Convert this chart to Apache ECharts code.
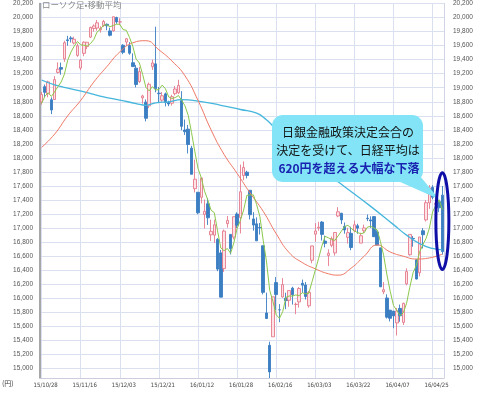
<!DOCTYPE html>
<html><head><meta charset="utf-8">
<script src="https://cdn.jsdelivr.net/npm/echarts@6/dist/echarts.min.js"></script>
<style>html,body{margin:0;padding:0;background:#fff}#c{width:478px;height:394px}</style>
</head><body><div id="c"></div>
<script>
const dates = ['15/10/28','15/10/29','15/10/30','15/11/02','15/11/04','15/11/05','15/11/06','15/11/09','15/11/10','15/11/11','15/11/12','15/11/13',
'15/11/16','15/11/17','15/11/18','15/11/19','15/11/20','15/11/24','15/11/25','15/11/26','15/11/27','15/11/30','15/12/01','15/12/02',
'15/12/03','15/12/04','15/12/07','15/12/08','15/12/09','15/12/10','15/12/11','15/12/14','15/12/15','15/12/16','15/12/17','15/12/18',
'15/12/21','15/12/22','15/12/24','15/12/25','15/12/28','15/12/29','15/12/30','16/01/04','16/01/05','16/01/06','16/01/07','16/01/08',
'16/01/12','16/01/13','16/01/14','16/01/15','16/01/18','16/01/19','16/01/20','16/01/21','16/01/22','16/01/25','16/01/26','16/01/27',
'16/01/28','16/01/29','16/02/01','16/02/02','16/02/03','16/02/04','16/02/05','16/02/08','16/02/09','16/02/10','16/02/12','16/02/15',
'16/02/16','16/02/17','16/02/18','16/02/19','16/02/22','16/02/23','16/02/24','16/02/25','16/02/26','16/02/29','16/03/01','16/03/02',
'16/03/03','16/03/04','16/03/07','16/03/08','16/03/09','16/03/10','16/03/11','16/03/14','16/03/15','16/03/16','16/03/17','16/03/18',
'16/03/22','16/03/23','16/03/24','16/03/25','16/03/28','16/03/29','16/03/30','16/03/31','16/04/01','16/04/04','16/04/05','16/04/06',
'16/04/07','16/04/08','16/04/11','16/04/12','16/04/13','16/04/14','16/04/15','16/04/18','16/04/19','16/04/20','16/04/21','16/04/22',
'16/04/25','16/04/26','16/04/27','16/04/28'];

const opens = [18799,19013,18914,18829,18832,19218,19288,19411,19682,19709,19637,19460,
19280,19490,19586,19721,19844,19851,19825,19885,19904,19810,19810,20000,
19937,19606,19650,19600,19356,19279,19088,18855,18795,18741,19300,19340,
18922,18823,18913,18791,18779,18915,18929,18818,18398,18410,18139,17562,
17511,17439,17195,17347,16905,16900,16840,16647,16424,17064,16911,16872,
17201,17150,17750,17797,17539,17131,17061,17010,16749,15792,15330,15452,
16225,15837,16019,16003,15973,16145,15913,15949,16215,16190,15893,16542,
16914,17001,17086,16815,16611,16754,16647,17173,17212,17025,16869,16926,
16960,17034,16787,16963,17140,17117,17164,16945,16719,16093,16005,15831,
15818,15649,15857,15657,16206,16621,16854,16548,16365,16962,17117,17360,
17581,17338,17378,17470];
const highs = [18941,19046,19101,18863,19165,19361,19358,19669,19739,19734,19727,19630,
19410,19662,19651,19869,19903,19965,19875,19966,19915,19855,20012,20012,
19990,19620,19708,19650,19490,19325,19297,18900,18833,19073,19400,19869,
19010,18939,18931,18815,18899,19025,19113,18951,18547,18469,18172,17975,
17511,17715,17408,17426,17120,17122,16858,16690,16980,17174,16915,17163,
17226,17905,17950,17818,17539,17228,17153,17073,16751,16081,15382,16022,
16303,15918,16288,16080,16111,16165,15940,16160,16267,16231,16105,16747,
17071,17089,17101,16893,16697,16880,16941,17299,17218,17080,17005,17020,
17108,17063,16934,17050,17194,17168,17172,16970,16719,16232,16057,15836,
15819,15861,15911,15939,16428,16912,16887,16557,16874,17000,17398,17613,
17612,17446,17405,17600];
const lows = [18759,18868,18863,18624,18832,19204,19185,19369,19599,19645,19616,19440,
19250,19449,19549,19708,19800,19813,19785,19866,19819,19731,19801,19910,
19890,19478,19597,19470,19301,19005,19067,18773,18521,18709,19253,18935,
18780,18800,18734,18737,18746,18890,18910,18394,18327,18064,17767,17509,
17198,17354,16994,17046,16817,16789,16387,16017,16376,17006,16625,16840,
17001,16924,17683,17709,17124,16964,16819,16908,16056,15707,14865,15452,
15828,15660,16009,15845,15880,15911,15774,15867,16079,15983,15866,16499,
16805,16964,16823,16726,16461,16728,16608,17157,17058,16921,16780,16685,
16939,16920,16787,16930,17100,17003,16878,16758,16164,16060,15712,15671,
15575,15471,15666,15620,16185,16608,16735,16270,16313,16710,17095,17275,
17412,17301,17227,16622];
const closes = [18903,18935,19083,18683,19116,19265,19265,19642,19671,19697,19691,19596,
19393,19649,19648,19860,19880,19925,19847,19944,19883,19747,20012,19938,
19939,19504,19698,19492,19301,19046,19230,18883,18565,19049,19353,18986,
18916,18886,18789,18769,18873,18982,19033,18450,18374,18191,17767,17697,
17218,17715,17240,17147,16955,17048,16416,16017,16958,17110,16708,17163,
17041,17518,17865,17750,17191,17044,16819,17004,16085,15713,14952,16022,
16054,15836,16196,15967,16111,16052,15915,16140,16188,16026,16085,16747,
16960,17014,16911,16783,16642,16852,16938,17233,17117,16974,16936,16724,
17048,17000,16892,17002,17134,17103,16878,16758,16164,16123,15732,15715,
15749,15821,15751,15928,16381,16911,16848,16275,16874,16906,17363,17572,
17440,17353,17290,16666];

// 5-day moving average (green), one value per day
const ma5 = [18777,18877,18929,18876,18944,19016,19082,19194,19392,19508,19593,19659,
19610,19605,19595,19629,19686,19792,19832,19891,19896,19869,19887,19905,
19904,19828,19818,19714,19587,19408,19353,19190,19005,18955,19016,18967,
18974,19038,18986,18869,18847,18860,18889,18821,18742,18606,18363,18096,
17849,17718,17527,17403,17255,17221,16961,16717,16679,16710,16642,16791,
16996,17108,17259,17467,17473,17474,17334,17162,16829,16533,16115,15955,
15765,15715,15812,16015,16033,16032,16048,16037,16081,16064,16071,16237,
16401,16566,16743,16883,16862,16840,16825,16890,16956,17023,17040,16997,
16960,16936,16920,16933,17015,17026,17002,16975,16807,16605,16331,16098,
15897,15828,15754,15793,15926,16158,16364,16469,16658,16763,16853,16998,
17231,17327,17404,17264];

// 25-day moving average (red), read at sampled days
const ma25Dates = ['15/10/28','15/11/04','15/11/10','15/11/16','15/11/20','15/11/27','15/12/03','15/12/09','15/12/15','15/12/21','15/12/28','16/01/05',
'16/01/12','16/01/18','16/01/22','16/01/28','16/02/03','16/02/09','16/02/16','16/02/22','16/02/26','16/03/03','16/03/09','16/03/14',
'16/03/18','16/03/25','16/03/31','16/04/06','16/04/12','16/04/18','16/04/22','16/04/28'];
const ma25 = [18150,18340,18600,18820,19080,19300,19510,19640,19670,19540,19380,19170,
18820,18400,18050,17780,17500,17240,16920,16650,16510,16420,16350,16330,
16430,16600,16760,16660,16600,16560,16575,16630];

// 75-day moving average (blue), read at sampled days
const ma75Dates = ['15/10/28','15/11/04','15/11/11','15/11/18','15/11/26','15/12/03','15/12/10','15/12/15','15/12/18','15/12/25','16/01/04','16/01/12',
'16/01/21','16/01/29','16/02/05','16/02/10','16/02/15','16/02/24','16/03/07','16/03/16','16/03/29','16/04/07','16/04/13','16/04/19',
'16/04/25','16/04/28'];
const ma75 = [19110,19040,18985,18930,18870,18825,18775,18750,18785,18800,18830,18810,
18750,18690,18638,18544,18455,18150,17830,17590,17310,17050,16900,16780,
16710,16690];

const yTicks = [15000,15200,15400,15600,15800,16000,16200,16400,16600,16800,17000,17200,17400,17600,
17800,18000,18200,18400,18600,18800,19000,19200,19400,19600,19800,20000,20200];

const calloutLines = ['日銀金融政策決定会合の','決定を受けて、日経平均は','620円を超える大幅な下落'];

const chart = echarts.init(document.getElementById('c'));
const gridCol = '#dbe0f1';
const numFmt = v => String(v).replace(/\B(?=(\d{3})+(?!\d))/g, ',');
const yCommon = {
  type: 'value', min: 14865, max: 20200,
  axisTick: {show: false, customValues: yTicks},
  axisLabel: {customValues: yTicks, formatter: numFmt, fontSize: 6.5, color: '#555',
    fontFamily: 'Liberation Sans, Arial, sans-serif'}
};
chart.setOption({
  animation: false,
  backgroundColor: '#fff',
  grid: {left: 40, right: 34, top: -1, bottom: 16},
  xAxis: {
    type: 'category', data: dates, boundaryGap: true,
    axisTick: {show: false},
    axisLine: {show: true, lineStyle: {color: '#ccd', width: 1}},
    axisLabel: {interval: 11, fontSize: 6, margin: 4, color: '#444', padding: [0, 0, 0, 8],
      fontFamily: 'Liberation Sans Narrow, DejaVu Sans Condensed, Arial, sans-serif'},
    splitLine: {show: true, interval: 11, alignWithLabel: true, lineStyle: {color: gridCol, width: 1}}
  },
  yAxis: [
    Object.assign({}, yCommon, {position: 'left',
      axisLine: {show: true, lineStyle: {color: '#8a8a8a', width: 1.5}},
      axisLabel: Object.assign({}, yCommon.axisLabel, {margin: 7}),
      splitLine: {show: true, lineStyle: {color: gridCol, width: 1}}}),
    Object.assign({}, yCommon, {position: 'right',
      axisLine: {show: true, lineStyle: {color: '#d0d4e4', width: 1}},
      axisLabel: Object.assign({}, yCommon.axisLabel, {margin: 9}),
      splitLine: {show: false}})
  ],
  series: [
    {type: 'candlestick', data: dates.map((d, i) => [opens[i], closes[i], lows[i], highs[i]]),
      barWidth: 3,
      itemStyle: {color: '#fde2e6', color0: '#3b7ec2', borderColor: '#e57a8c', borderColor0: '#3b7ec2', borderWidth: 0.9}},
    {type: 'line', data: ma75Dates.map((d, k) => [d, ma75[k]]), smooth: true, showSymbol: false,
      lineStyle: {color: '#46b6dc', width: 1.3}},
    {type: 'line', data: ma25Dates.map((d, k) => [d, ma25[k]]), smooth: true, showSymbol: false,
      lineStyle: {color: '#ef7866', width: 1}},
    {type: 'line', data: ma5, showSymbol: false,
      lineStyle: {color: '#8cc84b', width: 1}}
  ]
});

const tip = chart.convertToPixel({xAxisIndex: 0, yAxisIndex: 0}, [dates[122], 17410]);
const ec = chart.convertToPixel({xAxisIndex: 0, yAxisIndex: 0}, [dates[123], 17100]);
const eTop = chart.convertToPixel({yAxisIndex: 0}, 17790);
const eBot = chart.convertToPixel({yAxisIndex: 0}, 16410);
const calloutFill = '#82e4f6';
chart.setOption({
  graphic: [
    {type: 'text', left: 42, top: 1, z: 50,
      style: {text: 'ローソク足•移動平均', fontSize: 8.5, fill: '#888', fontFamily: 'Noto Sans CJK JP, sans-serif'}},
    {type: 'text', left: 2, top: 380, z: 50,
      style: {text: '(円)', fontSize: 7, fill: '#444', fontFamily: 'Noto Sans CJK JP, sans-serif'}},
    {type: 'polygon', z: 60, shape: {points: [[398, 181], [420, 176], tip]}, style: {fill: calloutFill}},
    {type: 'rect', z: 61, shape: {x: 272, y: 115, width: 151, height: 67, r: 11}, style: {fill: calloutFill}},
    {type: 'text', z: 62, x: 348, y: 132, style: {text: calloutLines[0], fontSize: 12, fill: '#111', align: 'center', verticalAlign: 'middle', fontFamily: 'Noto Sans CJK JP, sans-serif'}},
    {type: 'text', z: 62, x: 348, y: 150, style: {text: calloutLines[1], fontSize: 12, fill: '#111', align: 'center', verticalAlign: 'middle', fontFamily: 'Noto Sans CJK JP, sans-serif'}},
    {type: 'text', z: 62, x: 349, y: 168, style: {text: calloutLines[2], fontSize: 12, fontWeight: 'bold', fill: '#1a22b0', align: 'center', verticalAlign: 'middle', fontFamily: 'Noto Sans CJK JP, sans-serif'}},
    {type: 'ellipse', z: 70, shape: {cx: ec[0], cy: ec[1], rx: 6.5, ry: (eBot - eTop) / 2},
      style: {fill: 'none', stroke: '#0f0fa8', lineWidth: 3}}
  ]
});
</script>
</body></html>
